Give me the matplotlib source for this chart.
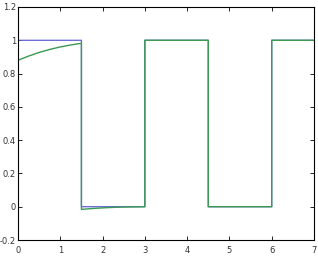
import numpy as np
import matplotlib
matplotlib.use("Agg")
import matplotlib.pyplot as plt
from matplotlib.ticker import FuncFormatter

plt.rcParams['axes.unicode_minus'] = False
plt.rcParams['font.family'] = 'DejaVu Sans'

# square wave (target)
step_x = [0, 1.5, 1.5, 3, 3, 4.5, 4.5, 6, 6, 7]
step_y = [1, 1, 0, 0, 1, 1, 0, 0, 1, 1]

# response
resp_x = [0, 0.25, 0.5, 0.75, 1.0, 1.25, 1.5, 1.5, 1.75, 2.0, 2.25, 2.5, 3,
          3, 4.5, 4.5, 6, 6, 7]
resp_y = [0.88, 0.905, 0.927, 0.945, 0.96, 0.972, 0.982, -0.016, -0.011,
          -0.007, -0.004, -0.002, 0, 1, 1, 0, 0, 1, 1]

x_ticks = [0, 1, 2, 3, 4, 5, 6, 7]
y_ticks = [-0.2, 0, 0.2, 0.4, 0.6, 0.8, 1, 1.2]

fig = plt.figure(figsize=(3.18, 2.62), dpi=100)
ax = fig.add_axes([18 / 318, 22 / 262, 296 / 318, 233 / 262])
ax.plot(step_x, step_y, color='#6060d8', lw=0.9, snap=False)
ax.plot(resp_x, resp_y, color='#3a9a52', lw=1.0, snap=False)

ax.set_xlim(0, 7)
ax.set_ylim(-0.2, 1.2)
ax.set_xticks(x_ticks)
ax.set_yticks(y_ticks)
ax.yaxis.set_major_formatter(FuncFormatter(lambda v, p: '%g' % round(v, 2)))
ax.tick_params(direction='in', top=True, right=True, labelsize=6,
               length=3, width=0.6, labelcolor='#333333')
ax.tick_params(axis='y', pad=1.5)
ax.tick_params(axis='x', pad=4)
for s in ax.spines.values():
    s.set_linewidth(0.8)

fig.savefig('out.png', dpi=100)
